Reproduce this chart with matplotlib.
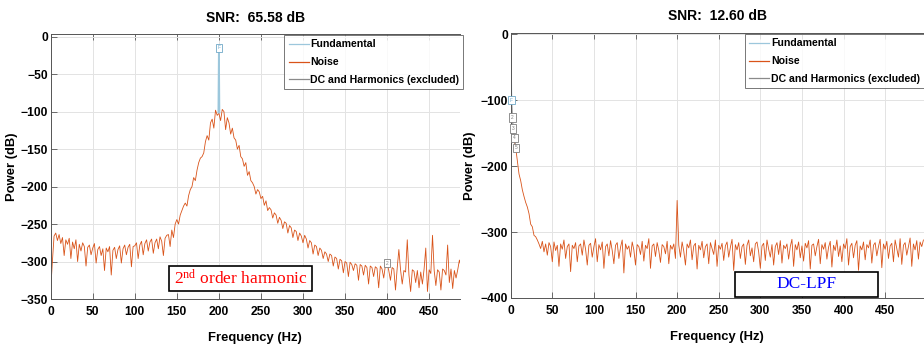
import numpy as np
import matplotlib
matplotlib.use("Agg")
import matplotlib.pyplot as plt
from matplotlib.lines import Line2D
from matplotlib.patches import Rectangle

plt.rcParams['font.family'] = ['Liberation Sans', 'DejaVu Sans']
plt.rcParams['mathtext.fontset'] = 'custom'
plt.rcParams['mathtext.rm'] = 'Liberation Serif'

# ---------------- data: left panel (2nd order harmonic) ----------------
left_title = "SNR:  65.58 dB"
left_freq = np.arange(0, 490, 2)
left_noise = [
    -338, -300, -266, -262, -272, -264, -276, -268, -292, -271,
    -277, -269, -296, -274, -283, -271, -300, -277, -286, -275,
    -280, -306, -281, -278, -291, -282, -276, -302, -284, -280,
    -292, -283, -312, -282, -287, -280, -318, -285, -281, -296,
    -284, -279, -302, -283, -278, -291, -281, -277, -307, -280,
    -279, -275, -296, -278, -273, -291, -276, -271, -286, -274,
    -270, -289, -275, -270, -283, -267, -273, -292, -269, -265,
    -264, -280, -258, -268, -250, -244, -250, -238, -232, -226,
    -222, -226, -212, -204, -200, -188, -192, -178, -168, -162,
    -160, -155, -140, -132, -138, -115, -110, -122, -98, -105,
    -102, -112, -97, -100, -124, -108, -115, -130, -122, -135,
    -138, -150, -145, -160, -163, -173, -168, -185, -180, -192,
    -195, -200, -210, -204, -207, -216, -213, -225, -219, -232,
    -228, -231, -242, -235, -238, -249, -241, -245, -256, -247,
    -249, -262, -252, -255, -268, -258, -260, -272, -262, -266,
    -275, -265, -270, -282, -272, -275, -290, -278, -280, -292,
    -282, -285, -296, -287, -290, -300, -290, -292, -306, -294,
    -296, -310, -297, -299, -315, -300, -302, -320, -301, -304,
    -312, -303, -305, -325, -304, -306, -318, -305, -308, -330,
    -306, -308, -320, -307, -309, -335, -306, -310, -322, -305,
    -302, -312, -325, -308, -310, -338, -309, -284, -311, -330,
    -312, -314, -271, -318, -340, -311, -313, -328, -312, -335,
    -314, -330, -310, -282, -340, -311, -316, -265, -312, -332,
    -311, -314, -338, -310, -312, -318, -278, -328, -310, -336,
    -312, -322, -311, -298, -307,
]
left_fund_freq = [199.4, 200.0, 200.6]
left_fund_power = [-101, -17, -101]
left_markers = [("F", 200, -15, "#6FA8C8"), ("2", 400, -302, "#7F7F7F")]

# ---------------- data: right panel (DC-LPF) ----------------
right_title = "SNR:  12.60 dB"
right_freq = np.arange(4, 498, 2)
right_noise = [
    -160, -172, -192, -212, -222, -236, -246, -255, -262, -272,
    -288, -292, -305, -307, -312, -318, -325, -314, -330, -318,
    -335, -316, -322, -345, -315, -328, -320, -352, -318, -326,
    -312, -340, -322, -318, -360, -320, -325, -316, -345, -321,
    -318, -335, -312, -326, -350, -320, -317, -338, -322, -310,
    -345, -319, -327, -315, -355, -322, -318, -336, -313, -328,
    -348, -320, -316, -340, -323, -312, -362, -318, -326, -321,
    -338, -315, -327, -350, -319, -322, -334, -314, -344, -320,
    -325, -310, -355, -321, -318, -337, -316, -328, -346, -319,
    -322, -333, -314, -348, -320, -326, -318, -340, -252, -320,
    -338, -315, -329, -350, -318, -324, -312, -342, -321, -317,
    -356, -320, -327, -314, -339, -322, -318, -348, -316, -325,
    -334, -312, -352, -320, -326, -317, -343, -321, -315, -338,
    -323, -311, -358, -319, -327, -316, -340, -322, -318, -349,
    -320, -312, -336, -324, -345, -318, -315, -330, -355, -321,
    -317, -343, -312, -326, -338, -319, -350, -322, -316, -334,
    -313, -347, -320, -325, -318, -341, -322, -311, -352, -319,
    -327, -315, -339, -321, -344, -317, -324, -313, -356, -320,
    -318, -336, -322, -311, -348, -319, -326, -316, -341, -323,
    -314, -353, -320, -328, -312, -337, -321, -345, -318, -325,
    -310, -350, -322, -317, -339, -320, -313, -358, -321, -327,
    -315, -342, -319, -324, -312, -347, -320, -316, -336, -322,
    -311, -354, -318, -326, -314, -340, -321, -317, -345, -312,
    -325, -338, -310, -349, -320, -316, -335, -322, -309, -352,
    -318, -327, -313, -341, -315, -322, -312,
]
right_excl_freq = [0, 1, 2, 3, 4.5, 6]
right_excl_power = [0, -98, -126, -143, -157, -172]
right_fund_freq = [0.4, 1.0]
right_fund_power = [-40, -99]
right_markers = [("F", 1.0, -100, "#6FA8C8"), ("2", 2.2, -126, "#7F7F7F"),
                 ("3", 3.2, -143, "#7F7F7F"), ("4", 4.6, -157, "#7F7F7F"),
                 ("5", 6.2, -172, "#7F7F7F")]

legend_labels = ["Fundamental", "Noise", "DC and Harmonics (excluded)"]
xticks = [0, 50, 100, 150, 200, 250, 300, 350, 400, 450]

C_FUND = "#9CC7DC"
C_NOISE = "#D95319"
C_EXCL = "#8A8A8A"

fig = plt.figure(figsize=(9.24, 3.48), dpi=100)
axL = fig.add_axes([50.7 / 924, 49 / 348, 409.3 / 924, 265 / 348])
axR = fig.add_axes([510.7 / 924, 50 / 348, 413.3 / 924, 265 / 348])

TICK_FS = 8.7
LAB_FS = 9.4
TITLE_FS = 10
LEG_FS = 7.6


def style(ax, xlim, ylim, yticks, title):
    ax.set_xlim(*xlim)
    ax.set_ylim(*ylim)
    ax.set_xticks(xticks)
    ax.set_yticks(yticks)
    ax.grid(True, color="#E3E3E3", linewidth=0.7)
    ax.set_axisbelow(True)
    ax.tick_params(direction="in", top=True, right=False, length=4, width=0.6,
                   color="#555555", labelsize=TICK_FS)
    ax.tick_params(axis="x", pad=5)
    ax.tick_params(axis="y", pad=2)
    for lab in ax.get_xticklabels() + ax.get_yticklabels():
        lab.set_fontweight("bold")
    for s in ax.spines.values():
        s.set_color("#555555")
        s.set_linewidth(0.7)
    ax.spines["right"].set_visible(False)
    ax.set_title(title, fontsize=TITLE_FS, fontweight="bold", pad=9)
    ax.set_xlabel("Frequency (Hz)", fontsize=LAB_FS, fontweight="bold")
    ax.set_ylabel("Power (dB)", fontsize=LAB_FS, fontweight="bold")
    handles = [Line2D([], [], color=c, lw=0.9) for c in (C_FUND, C_NOISE, C_EXCL)]
    return handles


def markers(ax, mk):
    for t, x, y, c in mk:
        ax.text(x, y, t, fontsize=3.5, color=c, ha="center", va="center",
                bbox=dict(boxstyle="square,pad=0.35", fc="white", ec=c, lw=0.6))


def legend(ax, h, anchor):
    leg = ax.legend(h, legend_labels, loc="upper left", bbox_to_anchor=anchor,
                    prop=dict(weight="bold", size=LEG_FS), frameon=True, fancybox=False,
                    handlelength=1.9, handletextpad=0.15, labelspacing=0.75, borderpad=0.4,
                    borderaxespad=0)
    leg.get_frame().set_edgecolor("#555555")
    leg.get_frame().set_linewidth(0.7)


# left panel
h = style(axL, (0, 486.7), (-350, 3.6), [-350, -300, -250, -200, -150, -100, -50, 0], left_title)
axL.plot(left_freq, left_noise, color=C_NOISE, lw=0.6)
axL.plot(left_fund_freq, left_fund_power, color=C_FUND, lw=1.3)
markers(axL, left_markers)
legend(axL, h, (0.571, 0.996))
axL.yaxis.set_label_coords(-0.08, 0.5)
axL.xaxis.set_label_coords(0.5, -0.125)
axL.add_patch(Rectangle((0.288, 0.03), 0.351, 0.094, transform=axL.transAxes,
                        fc="white", ec="black", lw=1.2, zorder=5))
axL.text(0.4635, 0.075, r"$\mathrm{2^{nd}}$ order harmonic", transform=axL.transAxes,
         fontsize=12.5, color="red", family="Liberation Serif", ha="center", va="center", zorder=6)

# right panel
h = style(axR, (0, 496.7), (-400, 2), [-400, -300, -200, -100, 0], right_title)
axR.plot(right_freq, right_noise, color=C_NOISE, lw=0.6)
axR.plot(right_excl_freq, right_excl_power, color=C_EXCL, lw=0.8)
axR.plot(right_fund_freq, right_fund_power, color=C_FUND, lw=1.0)
markers(axR, right_markers)
legend(axR, h, (0.567, 0.996))
axR.yaxis.set_label_coords(-0.083, 0.5)
axR.xaxis.set_label_coords(0.5, -0.125)
axR.add_patch(Rectangle((0.543, 0.004), 0.346, 0.094, transform=axR.transAxes,
                        fc="white", ec="black", lw=1.2, zorder=5))
axR.text(0.716, 0.051, "DC-LPF", transform=axR.transAxes,
         fontsize=12.5, color="blue", family="Liberation Serif", ha="center", va="center", zorder=6)

fig.savefig("out.png", dpi=100)
